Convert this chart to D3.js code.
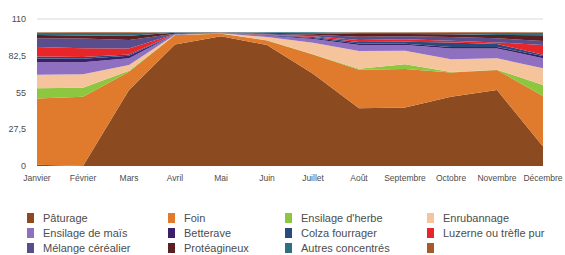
<!doctype html>
<html>
<head>
<meta charset="utf-8">
<style>
    body { margin: 0; background: #fff; }
    text { font-family: "Liberation Sans", Arial, sans-serif; fill: #4d4d4d; }
</style>
<script src="https://d3js.org/d3.v7.min.js"></script>
</head>
<body>
<svg width="565" height="255"></svg>
<script>

var months = ["Janvier", "Février", "Mars", "Avril", "Mai", "Juin", "Juillet", "Août", "Septembre", "Octobre", "Novembre", "Décembre"]

var yTicks = [0, 27.5, 55, 82.5, 110]

var seriesNames = ["Pâturage", "Foin", "Ensilage d'herbe", "Enrubannage",
                   "Ensilage de maïs", "Betterave", "Colza fourrager", "Luzerne ou trèfle pur",
                   "Mélange céréalier", "Protéagineux", "Autres concentrés", ""]

var paturage   = [1, 0, 56.9, 91, 97, 90.6, 69, 43.2, 43.8, 51.9, 56.9, 14.5]
var foin       = [49.5, 51.9, 13.6, 7, 2, 3.4, 14.5, 28.8, 28.8, 18, 15, 37.9]
var ensHerbe   = [7.7, 6.7, 0.7, 0.1, 0.1, 0.1, 0.2, 0.7, 3.5, 0.5, 0.2, 8.2]
var enrubannage= [10.1, 10, 4.4, 0.2, 0.2, 2.4, 8.6, 13.3, 10.2, 9.4, 8.5, 12.5]
var ensMais    = [9.3, 9, 5, 0.2, 0.1, 1, 2.7, 4.6, 4.2, 8.2, 7.4, 7.5]
var betterave  = [2.9, 2.7, 1.9, 0.1, 0.1, 0.3, 0.8, 1, 1, 1, 1, 1.7]
var colza      = [1.5, 1.2, 1, 0.1, 0.1, 0.3, 0.7, 1.2, 1.5, 3.5, 2.3, 1]
var luzerne    = [7, 6.6, 4.5, 0.1, 0.1, 0.3, 0.5, 1.5, 1.8, 1.2, 1.2, 7.3]
var melange    = [6.6, 7.3, 6.3, 0.2, 0.1, 0.6, 1.3, 2.5, 2.2, 2.8, 3.1, 2.9]
var proteag    = [2.4, 2.3, 3.2, 0.7, 0.1, 0.6, 1, 2, 1.8, 2, 2.4, 4.3]
var autres     = [1.7, 1.8, 2, 0.3, 0.1, 0.4, 0.7, 0.9, 0.9, 1.1, 1.5, 1.9]
var sansNom    = [0.3, 0.5, 0.5, 0, 0, 0, 0, 0.3, 0.3, 0.4, 0.5, 0.3]

var seriesValues = [paturage, foin, ensHerbe, enrubannage, ensMais, betterave,
                    colza, luzerne, melange, proteag, autres, sansNom]

var colors = ["#8b4a1f", "#e07a2c", "#8dc63f", "#f5c49c", "#8f6fc0", "#3c1f6b",
              "#2a4a7f", "#e8262a", "#5a4d8e", "#5c1f22", "#2e7080", "#a65a28"]

var svg = d3.select("svg")

var plot = {left: 37, right: 543, top: 19, bottom: 166}

// table for d3.stack
var rows = months.map(function(m, i) {
    var r = { month: m }
    seriesValues.forEach(function(s, k) { r["s" + k] = s[i] })
    return r
})
var keys = seriesValues.map(function(s, k) { return "s" + k })
var stacked = d3.stack().keys(keys)(rows)

var x = d3.scalePoint().domain(months).range([plot.left, plot.right])
var y = d3.scaleLinear().domain([0, 110]).range([plot.bottom, plot.top])

// gridline at top
svg.append("line")
   .attr("x1", plot.left).attr("x2", plot.right)
   .attr("y1", y(110)).attr("y2", y(110))
   .attr("stroke", "#d9d9d9").attr("stroke-width", 1)

var area = d3.area()
    .x(function(d) { return x(d.data.month) })
    .y0(function(d) { return y(d[0]) })
    .y1(function(d) { return y(d[1]) })

svg.selectAll(".layer")
   .data(stacked)
   .enter().append("path")
   .attr("class", "layer")
   .attr("d", area)
   .attr("fill", function(d, i) { return colors[i] })

// y axis labels
svg.selectAll(".ylab")
   .data(yTicks)
   .enter().append("text")
   .attr("class", "ylab")
   .attr("x", 26)
   .attr("y", function(d) { return y(d) + 3 })
   .attr("text-anchor", "end")
   .attr("font-size", "9px")
   .text(function(d) { return String(d).replace(".", ",") })

// x axis labels
svg.selectAll(".xlab")
   .data(months)
   .enter().append("text")
   .attr("class", "xlab")
   .attr("x", function(d) { return x(d) })
   .attr("y", 181)
   .attr("text-anchor", "middle")
   .attr("font-size", "8.5px")
   .text(function(d) { return d })

// legend
var colX = [27, 168, 285, 427]
var rowY = [218, 233, 248]

var leg = svg.selectAll(".leg")
    .data(seriesNames)
    .enter().append("g")
    .attr("class", "leg")
    .attr("transform", function(d, i) {
        return "translate(" + colX[i % 4] + "," + rowY[Math.floor(i / 4)] + ")"
    })

leg.append("rect")
   .attr("x", 0).attr("y", -5)
   .attr("width", 7).attr("height", 10)
   .attr("fill", function(d, i) { return colors[i] })

leg.append("text")
   .attr("x", 16)
   .attr("y", 4)
   .attr("font-size", "11px")
   .text(function(d) { return d })

</script>
</body>
</html>
